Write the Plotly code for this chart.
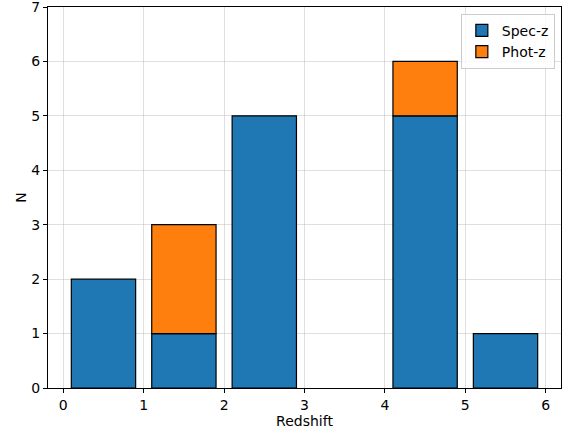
import plotly.graph_objects as go

bin_centers = [0.5, 1.5, 2.5, 3.5, 4.5, 5.5]
spec_z = [2, 1, 5, 0, 5, 1]
phot_z = [0, 2, 0, 0, 1, 0]

def nz(vals):
    return [v if v != 0 else None for v in vals]

fig = go.Figure()
fig.add_trace(go.Bar(x=bin_centers, y=nz(spec_z), name="Spec-z", width=0.8,
                     marker=dict(color="#1f77b4", line=dict(color="black", width=1.2))))
fig.add_trace(go.Bar(x=bin_centers, y=nz(phot_z), base=spec_z, name="Phot-z", width=0.8,
                     marker=dict(color="#ff7f0e", line=dict(color="black", width=1.2))))

axis_common = dict(showline=True, linecolor="black", linewidth=1, mirror=True,
                   ticks="outside", ticklen=4, tickcolor="black", automargin=False,
                   ticklabeloverflow="allow",
                   showgrid=True, gridcolor="rgba(176,176,176,0.4)", gridwidth=1,
                   zeroline=False, tickfont=dict(family="DejaVu Sans", size=14, color="black"))

fig.update_layout(
    barmode="overlay",
    width=569, height=433,
    margin=dict(l=48, r=8, t=7, b=45),
    plot_bgcolor="white", paper_bgcolor="white",
    font=dict(family="DejaVu Sans", size=14, color="black"),
    xaxis=dict(range=[-0.19, 6.19], tickvals=[0, 1, 2, 3, 4, 5, 6],
               title=dict(text="Redshift", font=dict(size=14), standoff=4), **axis_common),
    yaxis=dict(range=[0, 7], tickvals=[0, 1, 2, 3, 4, 5, 6, 7],
               title=dict(text="N", font=dict(size=14), standoff=1), **axis_common),
    legend=dict(x=0.988, y=0.982, xanchor="right", yanchor="top",
                bgcolor="rgba(255,255,255,0.8)", bordercolor="#cccccc", borderwidth=1,
                font=dict(size=14), traceorder="normal"),
    showlegend=True,
)

fig.write_html("out.html", config={"displayModeBar": False},
               post_script="document.body.style.margin='0';document.body.style.overflow='hidden';")
